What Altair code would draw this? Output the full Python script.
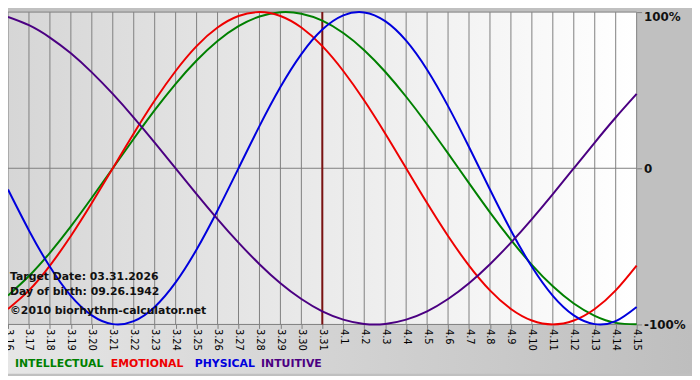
import altair as alt
import pandas as pd

# ---- data ----
day_labels = ["3.16", "3.17", "3.18", "3.19", "3.20", "3.21", "3.22", "3.23", "3.24",
              "3.25", "3.26", "3.27", "3.28", "3.29", "3.30", "3.31",
              "4.1", "4.2", "4.3", "4.4", "4.5", "4.6", "4.7", "4.8", "4.9",
              "4.10", "4.11", "4.12", "4.13", "4.14", "4.15"]

intellectual = [-0.815, -0.690, -0.541, -0.372, -0.189, 0.0, 0.189, 0.372, 0.541, 0.690,
                0.815, 0.910, 0.972, 0.999, 0.990, 0.945, 0.866, 0.756, 0.618, 0.458,
                0.282, 0.095, -0.095, -0.282, -0.458, -0.618, -0.756, -0.866, -0.945,
                -0.990, -0.999]
emotional = [-0.901, -0.782, -0.623, -0.434, -0.223, 0.0, 0.223, 0.434, 0.623, 0.782,
             0.901, 0.975, 1.0, 0.975, 0.901, 0.782, 0.623, 0.434, 0.223, 0.0,
             -0.223, -0.434, -0.623, -0.782, -0.901, -0.975, -1.0, -0.975, -0.901,
             -0.782, -0.623]
physical = [-0.136, -0.398, -0.631, -0.817, -0.942, -0.998, -0.979, -0.888, -0.731, -0.520,
            -0.270, 0.0, 0.270, 0.520, 0.731, 0.888, 0.979, 0.998, 0.942, 0.817,
            0.631, 0.398, 0.136, -0.136, -0.398, -0.631, -0.817, -0.942, -0.998,
            -0.979, -0.888]
intuitive = [0.969, 0.916, 0.837, 0.736, 0.614, 0.476, 0.325, 0.165, 0.0, -0.165,
             -0.325, -0.476, -0.614, -0.736, -0.837, -0.916, -0.969, -0.997, -0.997, -0.969,
             -0.916, -0.837, -0.736, -0.614, -0.476, -0.325, -0.165, 0.0, 0.165,
             0.325, 0.476]

series_names = ["INTELLECTUAL", "EMOTIONAL", "PHYSICAL", "INTUITIVE"]
series_colors = ["#008000", "#ee0000", "#0000dd", "#4b0082"]
target_label = "3.31"
y_ticks = [-1, 0, 1]

target_text = "Target Date: 03.31.2026"
birth_text = "Day of birth: 09.26.1942"
copyright_text = "\u00a92010 biorhythm-calculator.net"

# ---- build tables ----
rows = []
for name, vals in zip(series_names, [intellectual, emotional, physical, intuitive]):
    for i, v in enumerate(vals):
        rows.append({"idx": i, "day": day_labels[i], "series": name, "value": v})
df = pd.DataFrame(rows)
days_df = pd.DataFrame({"idx": list(range(len(day_labels)))})
target_df = pd.DataFrame({"idx": [day_labels.index(target_label)]})
ygrid_df = pd.DataFrame({"value": y_ticks})
one = alt.Data(values=[{"a": 1}])

W, H = 636, 316
PAD_B = 50
FONT = "DejaVu Sans"
GRID = "#808080"

label_js = "[" + ",".join("'%s'" % l for l in day_labels) + "][datum.value]"

x_scale = alt.Scale(domain=[0, len(day_labels) - 1], nice=False, zero=False)
y_scale = alt.Scale(domain=[-1, 1], nice=False, zero=False)

x_axis = alt.Axis(values=list(range(len(day_labels))), labelExpr=label_js, labelAngle=90,
                  labelAlign="left", labelBaseline="middle", tickSize=4, tickColor=GRID,
                  domain=False, grid=False, labelFontSize=10, labelFont=FONT,
                  labelColor="#000000", labelPadding=0, labelOverlap=False,
                  labelFlush=False, labelBound=False, zindex=1, title=None)
y_axis = alt.Axis(orient="right", values=y_ticks,
                  labelExpr="datum.value == 1 ? '100%' : (datum.value == 0 ? '0' : '-100%')",
                  labelBaseline={"condition": {"test": "datum.value == 1", "value": "top"},
                                 "value": "middle"},
                  tickSize=5, tickColor=GRID, domain=False, grid=False, labelFontSize=12,
                  labelFontWeight="bold", labelFont=FONT, labelColor="#111111",
                  labelPadding=2, labelFlush=False, labelOverlap=False, zindex=1, title=None)

bg_plot = alt.Chart(one).mark_rect(fill={
    "gradient": "linear", "x1": 0, "x2": 1, "y1": 0, "y2": 0,
    "stops": [{"offset": 0, "color": "#d6d6d6"}, {"offset": 1, "color": "#ffffff"}]}
).encode(x=alt.value(0), x2=alt.value(W), y=alt.value(0), y2=alt.value(H))

bg_bottom = alt.Chart(one).mark_rect(fill={
    "gradient": "linear", "x1": 0, "x2": 1, "y1": 0, "y2": 0,
    "stops": [{"offset": 0, "color": "#e6e6e6"}, {"offset": 1, "color": "#bebebe"}]}
).encode(x=alt.value(0), x2=alt.value(W + 56), y=alt.value(H), y2=alt.value(H + PAD_B))

xgrid = alt.Chart(days_df).mark_rule(color=GRID, strokeWidth=1).encode(
    x=alt.X("idx:Q", scale=x_scale, axis=x_axis))
ygrid = alt.Chart(ygrid_df).mark_rule(color=GRID, strokeWidth=1).encode(
    y=alt.Y("value:Q", scale=y_scale, axis=y_axis))

target = alt.Chart(target_df).mark_rule(color="#7a1212", strokeWidth=2).encode(
    x=alt.X("idx:Q", scale=x_scale, axis=x_axis))

lines = alt.Chart(df).mark_line(strokeWidth=2, interpolate="natural").encode(
    x=alt.X("idx:Q", scale=x_scale, axis=x_axis),
    y=alt.Y("value:Q", scale=y_scale, axis=y_axis),
    color=alt.Color("series:N", scale=alt.Scale(domain=series_names, range=series_colors),
                    legend=None),
    detail="series:N",
)


def txt(s, x, y, color="#111111", size=11):
    return alt.Chart(one).mark_text(align="left", baseline="middle", font=FONT,
                                    fontWeight="bold", fontSize=size, color=color).encode(
        x=alt.value(x), y=alt.value(y), text=alt.value(s))


annots = [txt(target_text, 2, 268), txt(birth_text, 2, 283), txt(copyright_text, 2, 302)]
legend_x = [7, 104, 189, 256]
legend = [txt(n, lx, 356, c) for n, c, lx in zip(series_names, series_colors, legend_x)]

chart = alt.layer(bg_plot, bg_bottom, xgrid, ygrid, target, lines, *annots, *legend).properties(
    width=W, height=H,
    padding={"left": 0, "top": 2, "right": 56, "bottom": PAD_B},
    autosize=alt.AutoSizeParams(type="none"),
    background="#c0c0c0",
).configure_view(strokeWidth=0).configure_axis(labelOverlap=False)

chart.save("out.html", embed_options={"renderer": "svg", "actions": False})
